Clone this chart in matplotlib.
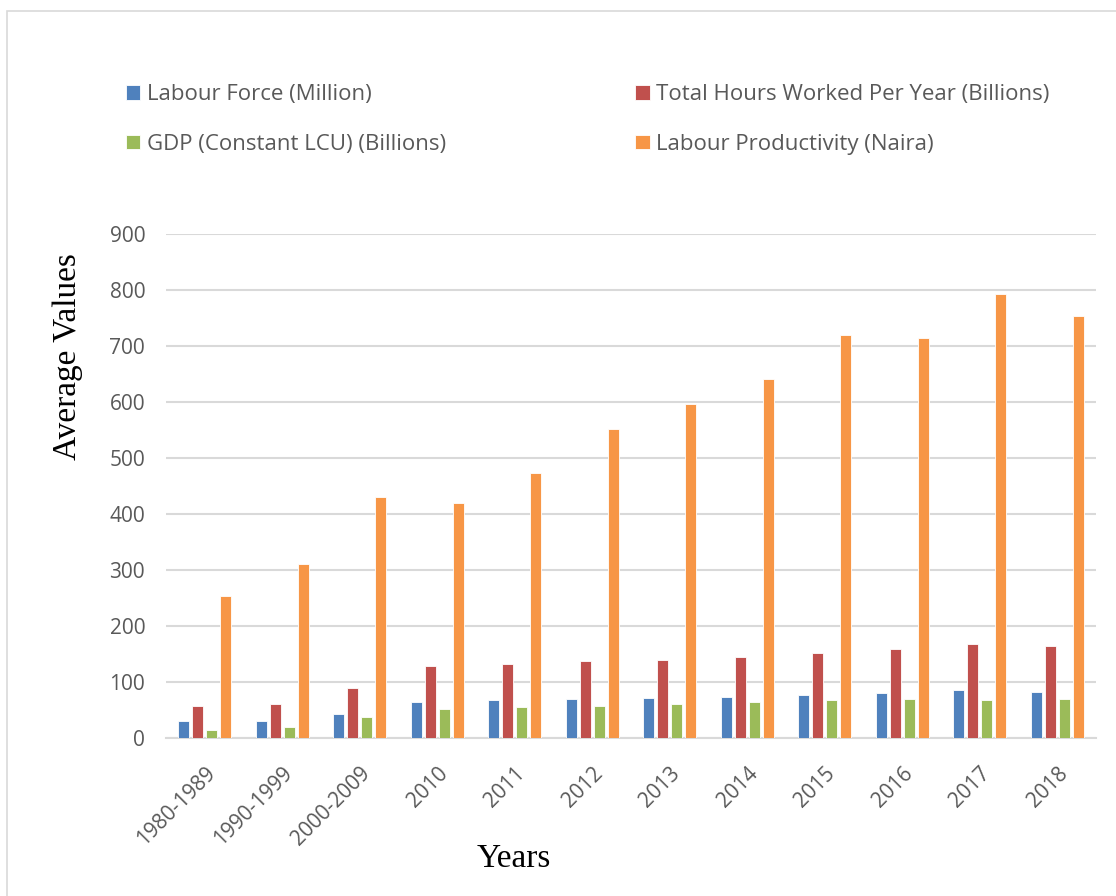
# Labour force, hours worked, GDP and labour productivity - grouped bar chart
import matplotlib.pyplot as plt
from matplotlib.patches import Rectangle
import numpy as np

# Data
years = ["1980-1989", "1990-1999", "2000-2009", "2010", "2011", "2012",
         "2013", "2014", "2015", "2016", "2017", "2018"]
labour_force = [30, 30, 42, 65, 67, 69, 71, 73, 77, 80, 85, 83]
hours_worked = [58, 60, 89, 129, 132, 137, 140, 144, 152, 159, 168, 164]
gdp = [15, 20, 37, 51, 55, 58, 60, 64, 68, 70, 68, 70]
productivity = [254, 311, 430, 420, 473, 552, 596, 641, 719, 714, 793, 753]

series = [
    ("Labour Force (Million)", labour_force, "#4F81BD"),
    ("Total Hours Worked Per Year (Billions)", hours_worked, "#C0504D"),
    ("GDP (Constant LCU) (Billions)", gdp, "#9BBB59"),
    ("Labour Productivity (Naira)", productivity, "#F79646"),
]

fig = plt.figure(figsize=(11.16, 8.96), dpi=100)
ax = fig.add_axes([166 / 1116, 1 - 738 / 896, 930 / 1116, 504 / 896])

# Outer chart border (right and bottom edges run off the page)
fig.patches.append(Rectangle((7 / 1116, -0.05), 1.1, 1.05 - 11 / 896,
                             transform=fig.transFigure, fill=False,
                             edgecolor="#d9d9d9", linewidth=1.2))

x = np.arange(len(years))
barWidth = 0.142
step = 0.18
handles = []
for i, (name, vals, col) in enumerate(series):
    b = ax.bar(x + (i - 1.5) * step, vals, width=barWidth, color=col,
               edgecolor="white", linewidth=0.6, label=name, zorder=3)
    handles.append(b)

ax.set_xlim(-0.5, len(years) - 0.5)
ax.set_ylim(0, 900)
ax.set_yticks(range(0, 901, 100))
ax.yaxis.grid(True, color="#d9d9d9", linewidth=1.5, zorder=0)
ax.set_axisbelow(True)
for s in ["top", "right", "left"]:
    ax.spines[s].set_visible(False)
ax.spines["bottom"].set_color("#d9d9d9")
ax.spines["bottom"].set_linewidth(1.5)
ax.tick_params(axis="both", length=0, colors="#595959", labelsize=15)
ax.tick_params(axis="y", pad=15)
ax.tick_params(axis="x", pad=18)
ax.set_xticks(x)
ax.set_xticklabels(years, rotation=45, ha="right", rotation_mode="anchor",
                   family="Open Sans")
for t in ax.get_yticklabels():
    t.set_family("Open Sans")

ax.set_ylabel("Average Values", family="Liberation Serif", fontsize=24,
              color="black")
ax.yaxis.set_label_coords((83 - 166) / 930, (738 - 357) / 504)
ax.set_xlabel("Years", family="Liberation Serif", fontsize=24,
              color="black")
ax.xaxis.set_label_coords((514 - 166) / 930, (738 - 843) / 504)

# Legend filled column-wise, so order handles to read row by row
order = [0, 2, 1, 3]
leg = fig.legend(handles=[handles[k] for k in order], loc="upper left",
                 bbox_to_anchor=(106 / 1116, 1 - 64 / 896), ncol=2,
                 frameon=False, handlelength=0.65, handleheight=0.65,
                 handletextpad=0.3, labelspacing=1.3, columnspacing=8.5,
                 prop={"family": "Open Sans", "size": 16})
for t in leg.get_texts():
    t.set_color("#595959")

fig.savefig("out.png", dpi=100)
